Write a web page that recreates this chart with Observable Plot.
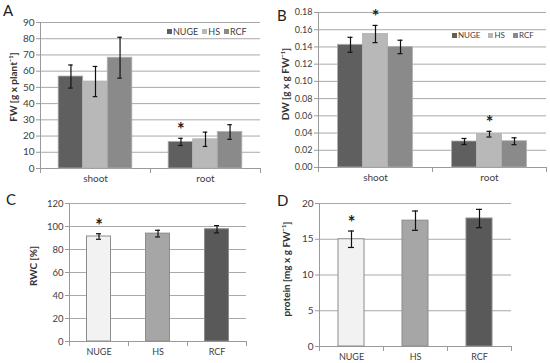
<!DOCTYPE html>
<html><head><meta charset="utf-8">
<script src="https://cdn.jsdelivr.net/npm/d3@7"></script>
<script src="https://cdn.jsdelivr.net/npm/@observablehq/plot@0.6"></script>
<style>
body{margin:0;background:#fff;font-family:Lato,"Open Sans",sans-serif;}
#wrap{position:relative;width:550px;height:363px;overflow:hidden;background:#fff;}
.panel{position:absolute;}
.panel svg{overflow:visible;}
.letter{position:absolute;font-size:15px;color:#222;line-height:1;}
.ylab{position:absolute;font-size:10px;font-weight:bold;color:#333;white-space:nowrap;transform:translate(-50%,-50%) rotate(-90deg);line-height:1;}
.legend{position:absolute;display:flex;align-items:center;color:#404040;line-height:1;white-space:nowrap;}
.legend .sw{display:inline-block;width:5px;height:5px;margin-right:1px;}
.legend .it{display:flex;align-items:center;}
</style></head>
<body><div id="wrap"></div>
<script>
// ---- data ----
const groups = ["shoot", "root"];
const treatments = ["NUGE", "HS", "RCF"];
const fwShoot = [56.7, 53.6, 68.3];
const fwShootSE = [7.1, 9.3, 12.6];
const fwRoot = [16.4, 18.0, 22.5];
const fwRootSE = [2.2, 4.4, 4.5];
const fwStars = [["root", "NUGE"]];
const dwShoot = [0.1425, 0.155, 0.140];
const dwShootSE = [0.0087, 0.0100, 0.0078];
const dwRoot = [0.0302, 0.0387, 0.0305];
const dwRootSE = [0.0035, 0.0033, 0.0040];
const dwStars = [["shoot", "HS"], ["root", "HS"]];
const rwc = [91.3, 93.8, 97.6];
const rwcSE = [2.4, 2.9, 3.2];
const rwcStars = ["NUGE"];
const protein = [15.0, 17.6, 17.9];
const proteinSE = [1.15, 1.35, 1.28];
const proteinStars = ["NUGE"];
const fwTicks = [0, 10, 20, 30, 40, 50, 60, 70, 80, 90];
const dwTicks = [0, 0.02, 0.04, 0.06, 0.08, 0.10, 0.12, 0.14, 0.16, 0.18];
const rwcTicks = [0, 20, 40, 60, 80, 100, 120];
const proteinTicks = [0, 5, 10, 15, 20];
const colorsTop = ["#5f5f5f", "#b8b8b8", "#8a8a8a"];
const colorsBottom = ["#f2f2f2", "#a6a6a6", "#595959"];
const labels = {A: "FW [g x plant\u207B\u00B9]", B: "DW [g x g FW\u207B\u00B9]", C: "RWC [%]", D: "protein [mg x g FW\u207B\u00B9]"};

const wrap = document.getElementById("wrap");
const FONT = "Lato, 'Open Sans', sans-serif";

function groupedData(shoot, shootSE, root, rootSE, stars) {
  const out = [];
  groups.forEach((g, gi) => treatments.forEach((t, ti) => {
    const mean = gi === 0 ? shoot[ti] : root[ti];
    const se = gi === 0 ? shootSE[ti] : rootSE[ti];
    out.push({group: g, treatment: t, mean, se, star: stars.some(s => s[0] === g && s[1] === t)});
  }));
  return out;
}

function grouped({data, ticks, fmt, colors, w, h, ml, mr, mt, mb, padOuter, cap, fs}) {
  const ph = h - mt - mb;
  return Plot.plot({
    width: w, height: h, marginLeft: ml, marginRight: mr, marginTop: mt, marginBottom: mb,
    style: {fontFamily: FONT, fontSize: fs + "px", color: "#404040", background: "transparent"},
    fx: {domain: groups, padding: 0, label: null},
    x: {domain: treatments, paddingInner: 0, paddingOuter: padOuter, axis: null, round: false},
    y: {domain: [ticks[0], ticks[ticks.length - 1]], axis: null},
    color: {domain: treatments, range: colors},
    marks: [
      Plot.gridY(ticks.slice(1), {stroke: "#a9a9a9", strokeOpacity: 1}),
      Plot.ruleY([ticks[0]], {stroke: "#9a9a9a"}),
      Plot.frame({anchor: "left", stroke: "#9a9a9a", facetAnchor: "left"}),
      Plot.frame({anchor: "left", stroke: "#9a9a9a", insetTop: ph, insetBottom: -4}),
      Plot.frame({anchor: "right", stroke: "#9a9a9a", insetTop: ph, insetBottom: -4}),
      Plot.axisY(ticks, {tickSize: 4, tickPadding: 2, tickFormat: fmt, stroke: "#9a9a9a", color: "#404040", label: null}),
      Plot.axisFx({anchor: "bottom", tickSize: 0, tickPadding: 6, label: null, fontSize: 10}),
      Plot.barY(data, {fx: "group", x: "treatment", y: "mean", fill: "treatment", stroke: "#b0b0b0", strokeWidth: 0.8}),
      Plot.ruleX(data, {fx: "group", x: "treatment", y1: d => d.mean - d.se, y2: d => d.mean + d.se, stroke: "#111", strokeWidth: 1.2}),
      Plot.tickY(data, {fx: "group", x: "treatment", y: d => d.mean - d.se, stroke: "#111", strokeWidth: 1.2, insetLeft: cap, insetRight: cap}),
      Plot.tickY(data, {fx: "group", x: "treatment", y: d => d.mean + d.se, stroke: "#111", strokeWidth: 1.2, insetLeft: cap, insetRight: cap}),
      Plot.text(data.filter(d => d.star), {fx: "group", x: "treatment", y: d => d.mean + d.se, text: () => "*", dy: -8, fontSize: 18, fontWeight: "bold", fill: "#222"})
    ]
  });
}

function single({vals, ses, stars, ticks, colors, w, h, ml, mr, mt, mb, inset, cap, fs}) {
  const ph = h - mt - mb;
  const data = treatments.map((t, i) => ({cat: t, mean: vals[i], se: ses[i], star: stars.includes(t)}));
  return Plot.plot({
    width: w, height: h, marginLeft: ml, marginRight: mr, marginTop: mt, marginBottom: mb,
    style: {fontFamily: FONT, fontSize: fs + "px", color: "#404040", background: "transparent"},
    fx: {domain: treatments, padding: 0, label: null},
    y: {domain: [ticks[0], ticks[ticks.length - 1]], axis: null},
    color: {domain: treatments, range: colors},
    marks: [
      Plot.gridY(ticks.slice(1), {stroke: "#a9a9a9", strokeOpacity: 1}),
      Plot.ruleY([ticks[0]], {stroke: "#9a9a9a"}),
      Plot.frame({anchor: "left", stroke: "#9a9a9a", facetAnchor: "left"}),
      Plot.frame({anchor: "left", stroke: "#9a9a9a", insetTop: ph, insetBottom: -4}),
      Plot.frame({anchor: "right", stroke: "#9a9a9a", insetTop: ph, insetBottom: -4}),
      Plot.axisY(ticks, {tickSize: 4, tickPadding: 2, stroke: "#9a9a9a", color: "#404040", label: null}),
      Plot.axisFx({anchor: "bottom", tickSize: 0, tickPadding: 7, label: null, fontSize: 9}),
      Plot.barY(data, {fx: "cat", y: "mean", fill: "cat", stroke: "#8c8c8c", strokeWidth: 1, insetLeft: inset, insetRight: inset}),
      Plot.ruleX(data, {fx: "cat", x: null, y1: d => d.mean - d.se, y2: d => d.mean + d.se, stroke: "#111", strokeWidth: 1.2}),
      Plot.tickY(data, {fx: "cat", y: d => d.mean - d.se, stroke: "#111", strokeWidth: 1.2, insetLeft: cap, insetRight: cap}),
      Plot.tickY(data, {fx: "cat", y: d => d.mean + d.se, stroke: "#111", strokeWidth: 1.2, insetLeft: cap, insetRight: cap}),
      Plot.text(data.filter(d => d.star), {fx: "cat", x: null, y: d => d.mean + d.se, text: () => "*", dy: -8, fontSize: 18, fontWeight: "bold", fill: "#222"})
    ]
  });
}

function place(node, left, top) {
  const d = document.createElement("div");
  d.className = "panel"; d.style.left = left + "px"; d.style.top = top + "px";
  d.appendChild(node); wrap.appendChild(d);
}
function addText(cls, txt, left, top, extra) {
  const d = document.createElement("div");
  d.className = cls; d.textContent = txt; d.style.left = left + "px"; d.style.top = top + "px";
  if (extra) Object.assign(d.style, extra);
  wrap.appendChild(d);
}
function legend(colors, left, top, fs, gap) {
  const d = document.createElement("div");
  d.className = "legend"; d.style.left = left + "px"; d.style.top = top + "px"; d.style.fontSize = fs + "px";
  treatments.forEach((t, i) => {
    const it = document.createElement("span"); it.className = "it";
    if (i > 0) it.style.marginLeft = gap + "px";
    const sw = document.createElement("span"); sw.className = "sw"; sw.style.background = colors[i];
    it.appendChild(sw); it.appendChild(document.createTextNode(t));
    d.appendChild(it);
  });
  wrap.appendChild(d);
}

// Panel A
place(grouped({data: groupedData(fwShoot, fwShootSE, fwRoot, fwRootSE, fwStars), ticks: fwTicks, fmt: d3.format("d"),
  colors: colorsTop, w: 270, h: 188, ml: 39, mr: 10, mt: 22, mb: 20, padOuter: 0.74, cap: 10, fs: 10}), 0, 0);
// Panel B
place(grouped({data: groupedData(dwShoot, dwShootSE, dwRoot, dwRootSE, dwStars), ticks: dwTicks, fmt: d3.format(".2f"),
  colors: colorsTop, w: 280, h: 188, ml: 48, mr: 4, mt: 12, mb: 21, padOuter: 0.78, cap: 10, fs: 9}), 270, 0);
// Panel C
place(single({vals: rwc, ses: rwcSE, stars: rwcStars, ticks: rwcTicks, colors: colorsBottom,
  w: 270, h: 175, ml: 68, mr: 23, mt: 15, mb: 22, inset: 17.5, cap: 27, fs: 9.5}), 0, 188);
// Panel D
place(single({vals: protein, ses: proteinSE, stars: proteinStars, ticks: proteinTicks, colors: colorsBottom,
  w: 280, h: 175, ml: 49, mr: 39, mt: 15, mb: 17, inset: 19, cap: 29, fs: 10}), 270, 188);

addText("letter", "A", 3, 3);
addText("letter", "B", 277, 8);
addText("letter", "C", 6, 192);
addText("letter", "D", 277, 193);
addText("ylab", labels.A, 12.5, 87);
addText("ylab", labels.B, 285, 84);
addText("ylab", labels.C, 33, 266);
addText("ylab", labels.D, 285.5, 269);
legend(colorsTop, 167, 27, 9, 4);
legend(colorsTop, 452, 31, 8, 8);
</script></body></html>
